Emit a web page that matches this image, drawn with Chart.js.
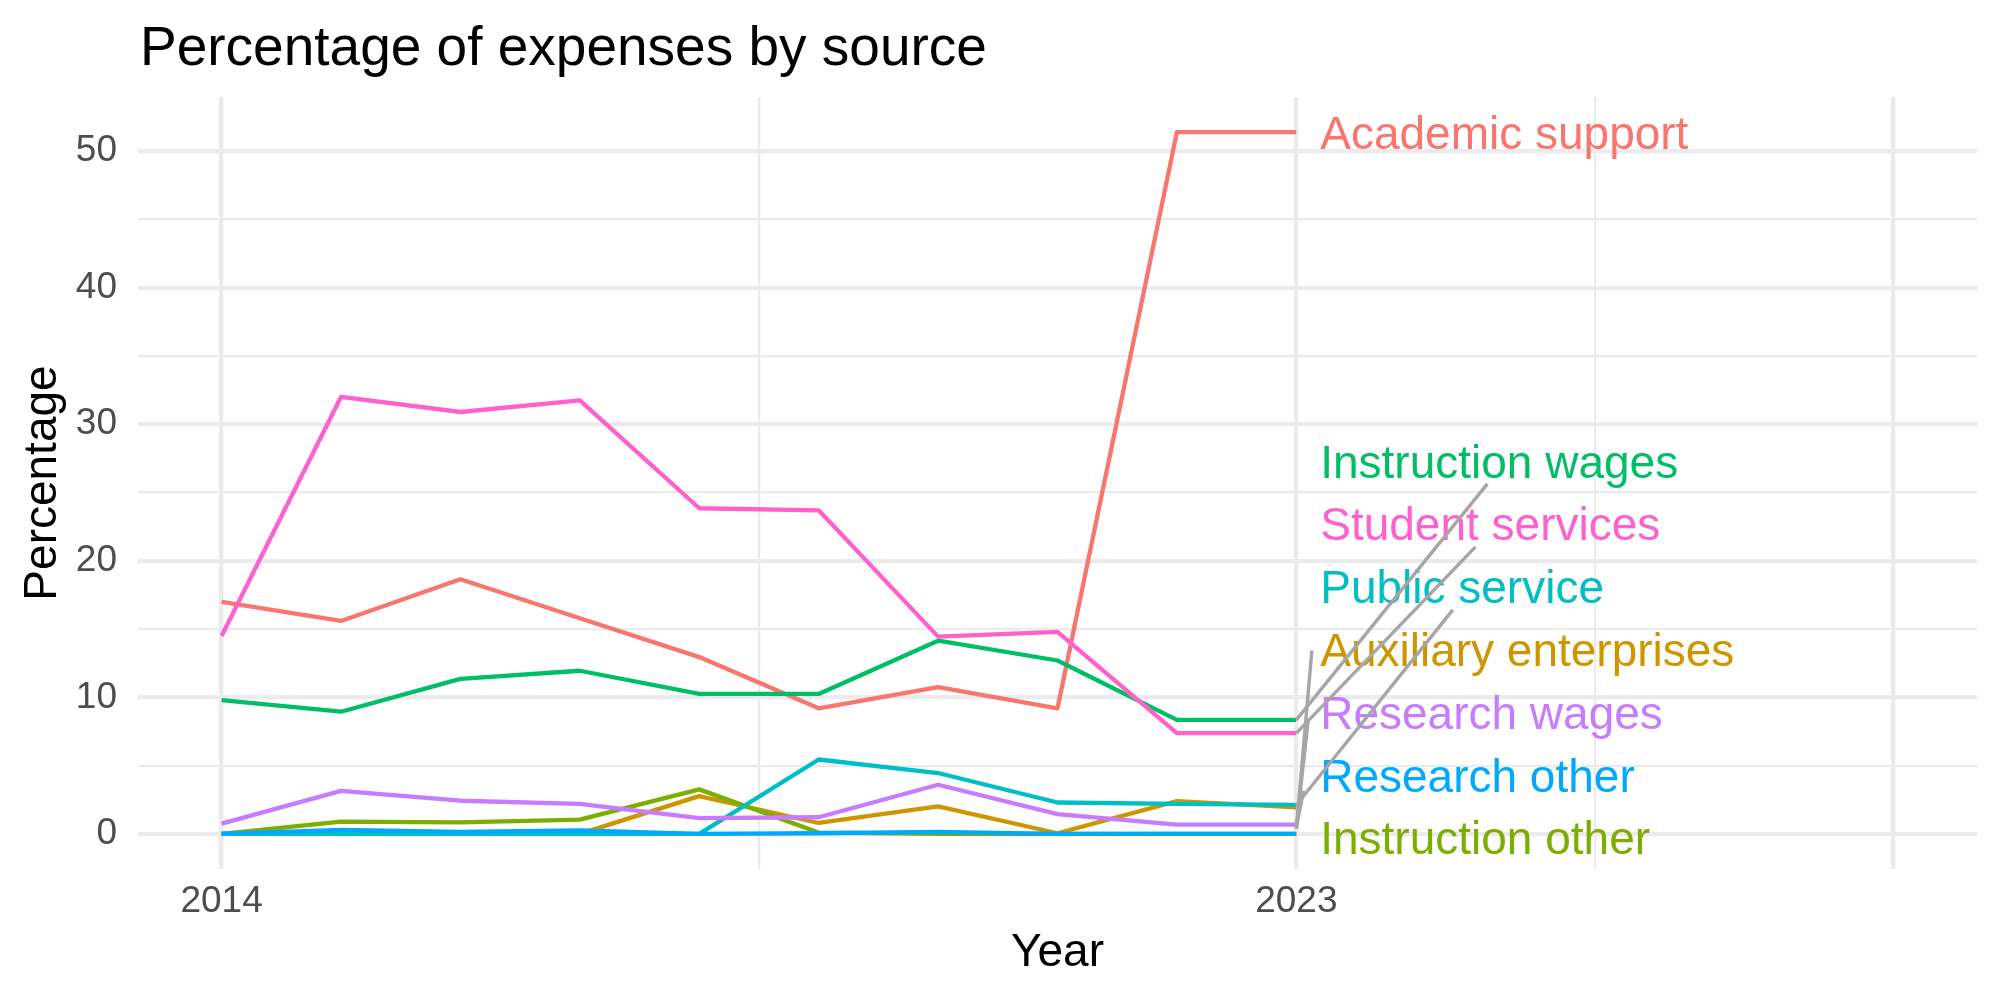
<!DOCTYPE html>
<html>
<head>
<meta charset="utf-8">
<script src="https://cdn.jsdelivr.net/npm/chart.js@4/dist/chart.umd.min.js"></script>
<style>
  html, body { margin: 0; padding: 0; background: #ffffff; }
  #wrap { width: 2000px; height: 1000px; position: relative; }
</style>
</head>
<body>
<div id="wrap"><canvas id="c" width="2000" height="1000"></canvas></div>
<script>
// ---------------- data ----------------
const years = [2014, 2015, 2016, 2017, 2018, 2019, 2020, 2021, 2022, 2023];

const academicSupport      = [17.0, 15.6, 18.65, 15.8, 12.95, 9.2, 10.75, 9.2, 51.4, 51.4];
const auxiliaryEnterprises = [0.0, 0.0, 0.0, 0.0, 2.77, 0.8, 2.02, 0.05, 2.4, 1.95];
const instructionOther     = [0.0, 0.9, 0.85, 1.05, 3.26, 0.1, 0.0, 0.0, 0.0, 0.0];
const instructionWages     = [9.8, 8.95, 11.35, 11.95, 10.25, 10.25, 14.15, 12.7, 8.35, 8.35];
const publicService        = [0.0, 0.0, 0.0, 0.0, 0.0, 5.45, 4.46, 2.3, 2.2, 2.12];
const researchOther        = [0.0, 0.3, 0.15, 0.25, 0.0, 0.05, 0.15, 0.0, 0.0, 0.0];
const researchWages        = [0.75, 3.15, 2.43, 2.2, 1.15, 1.22, 3.6, 1.45, 0.68, 0.68];
const studentServices      = [14.5, 32.0, 30.9, 31.75, 23.85, 23.7, 14.45, 14.8, 7.38, 7.38];

const seriesNames = ["Academic support", "Auxiliary enterprises", "Instruction other",
  "Instruction wages", "Public service", "Research other", "Research wages", "Student services"];
const seriesValues = [academicSupport, auxiliaryEnterprises, instructionOther,
  instructionWages, publicService, researchOther, researchWages, studentServices];
const seriesColors = ["#F8766D", "#CD9600", "#7CAE00", "#00BE67", "#00BFC4", "#00A9FF", "#C77CFF", "#FF61CC"];

// repelled label positions (data units), same order as seriesNames
const labelX = 2023.2;
const labelY = [51.38, 13.49, -0.29, 27.29, 18.1, 4.3, 8.9, 22.73];

// leader segments: [fromX, fromY, toX, toY] in data units
const segments = [
  [2023, 8.35, 2024.60, 25.64],
  [2023, 7.38, 2024.50, 21.02],
  [2023, 2.12, 2024.31, 16.41],
  [2023, 0.36, 2023.13, 13.42],
  [2023, 0.45, 2023.10, 8.4],
  [2023, 0.45, 2023.06, 3.15]
];

const yTicks = [0, 5, 10, 15, 20, 25, 30, 35, 40, 45, 50];
const yMajor = [0, 10, 20, 30, 40, 50];
const xTicks = [2014, 2018.5, 2023, 2025.5, 2028];
const xMajor = [2014, 2023, 2028];
const xTickLabels = [2014, 2023];

const titleText = "Percentage of expenses by source";
const xTitle = "Year";
const yTitle = "Percentage";

// ---------------- chart ----------------
const FONT = "'Liberation Sans', Arial, Helvetica, sans-serif";
const CAP = 0.358; // half cap-height as fraction of font size
const N = seriesNames.length;

const datasets = seriesNames.map((name, i) => ({
  label: name,
  data: years.map((yr, j) => ({ x: yr, y: seriesValues[i][j] })),
  borderColor: seriesColors[i],
  backgroundColor: seriesColors[i],
  borderWidth: 4.3,
  pointRadius: 0,
  tension: 0,
  fill: false,
  borderCapStyle: 'butt',
  borderJoinStyle: 'round',
  order: N - 1 - i
}));

const annotate = {
  id: 'annotate',
  afterDatasetsDraw(chart) {
    const ctx = chart.ctx;
    const xs = chart.scales.x, ys = chart.scales.y;
    const area = chart.chartArea;
    ctx.save();
    ctx.textBaseline = 'alphabetic';
    // labels (centred on cap height)
    const ls = 46;
    ctx.font = ls + "px " + FONT;
    ctx.textAlign = 'left';
    seriesNames.forEach((name, i) => {
      ctx.fillStyle = seriesColors[i];
      ctx.fillText(name, xs.getPixelForValue(labelX), ys.getPixelForValue(labelY[i]) + CAP * ls);
    });
    // segments
    ctx.strokeStyle = '#A6A6A6';
    ctx.lineWidth = 3.4;
    ctx.lineCap = 'butt';
    segments.forEach(s => {
      ctx.beginPath();
      ctx.moveTo(xs.getPixelForValue(s[0]), ys.getPixelForValue(s[1]));
      ctx.lineTo(xs.getPixelForValue(s[2]), ys.getPixelForValue(s[3]));
      ctx.stroke();
    });
    // title
    ctx.fillStyle = '#000000';
    const ts = 55;
    ctx.font = ts + "px " + FONT;
    ctx.textAlign = 'left';
    ctx.fillText(titleText, area.left + 2, 45 + CAP * ts);
    // axis titles
    const as = 46;
    ctx.font = as + "px " + FONT;
    ctx.textAlign = 'center';
    ctx.fillText(xTitle, (area.left + area.right) / 2, 950 + CAP * as);
    ctx.save();
    ctx.translate(40, (area.top + area.bottom) / 2);
    ctx.rotate(-Math.PI / 2);
    ctx.fillText(yTitle, 0, CAP * as);
    ctx.restore();
    ctx.restore();
  }
};

new Chart(document.getElementById('c'), {
  type: 'line',
  data: { datasets },
  plugins: [annotate],
  options: {
    responsive: false,
    devicePixelRatio: 1,
    animation: false,
    events: [],
    layout: { padding: { top: 97, right: 23, left: 0, bottom: 0 } },
    plugins: { legend: { display: false }, tooltip: { enabled: false }, title: { display: false } },
    scales: {
      x: {
        type: 'linear',
        min: 2013.3,
        max: 2028.7,
        afterBuildTicks: s => { s.ticks = xTicks.map(v => ({ value: v })); },
        afterFit: s => { s.height = 131; },
        border: { display: false },
        grid: {
          color: '#EBEBEB',
          drawTicks: false,
          lineWidth: c => (c.tick && xMajor.includes(c.tick.value)) ? 4.3 : 2.2
        },
        ticks: {
          autoSkip: false,
          maxRotation: 0,
          padding: 11,
          color: '#4D4D4D',
          font: { family: FONT, size: 37 },
          callback: v => xTickLabels.includes(v) ? String(v) : ''
        }
      },
      y: {
        type: 'linear',
        min: -2.57,
        max: 53.97,
        afterBuildTicks: s => { s.ticks = yTicks.map(v => ({ value: v })); },
        afterFit: s => { s.width = 138; },
        border: { display: false },
        grid: {
          color: '#EBEBEB',
          drawTicks: false,
          lineWidth: c => (c.tick && yMajor.includes(c.tick.value)) ? 4.3 : 2.2
        },
        ticks: {
          autoSkip: false,
          padding: 21,
          color: '#4D4D4D',
          font: { family: FONT, size: 37 },
          callback: v => yMajor.includes(v) ? String(v) : ''
        }
      }
    }
  }
});
</script>
</body>
</html>
